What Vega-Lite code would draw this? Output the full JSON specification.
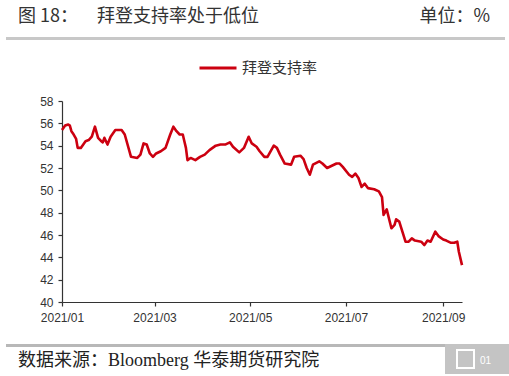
{
  "$schema": "https://vega.github.io/schema/vega-lite/v6.json",
  "autosize": {"type": "none"},
  "padding": {"left": 62, "top": 101, "right": 47, "bottom": 74},
  "width": 400,
  "height": 201,
  "background": "white",
  "config": {"view": {"stroke": null}},
  "resolve": {"scale": {"x": "independent", "y": "independent"}},
  "layer": [
    {
      "data": {"values": [
        {"date": "2021-01-01", "v": 55.4, "s": "拜登支持率"},
        {"date": "2021-01-03", "v": 55.8, "s": "拜登支持率"},
        {"date": "2021-01-05", "v": 55.9, "s": "拜登支持率"},
        {"date": "2021-01-06", "v": 55.8, "s": "拜登支持率"},
        {"date": "2021-01-07", "v": 55.3, "s": "拜登支持率"},
        {"date": "2021-01-08", "v": 55.1, "s": "拜登支持率"},
        {"date": "2021-01-10", "v": 54.6, "s": "拜登支持率"},
        {"date": "2021-01-11", "v": 53.8, "s": "拜登支持率"},
        {"date": "2021-01-13", "v": 53.8, "s": "拜登支持率"},
        {"date": "2021-01-16", "v": 54.4, "s": "拜登支持率"},
        {"date": "2021-01-18", "v": 54.5, "s": "拜登支持率"},
        {"date": "2021-01-20", "v": 54.8, "s": "拜登支持率"},
        {"date": "2021-01-22", "v": 55.7, "s": "拜登支持率"},
        {"date": "2021-01-24", "v": 54.7, "s": "拜登支持率"},
        {"date": "2021-01-26", "v": 54.4, "s": "拜登支持率"},
        {"date": "2021-01-27", "v": 54.3, "s": "拜登支持率"},
        {"date": "2021-01-28", "v": 54.7, "s": "拜登支持率"},
        {"date": "2021-01-30", "v": 54.1, "s": "拜登支持率"},
        {"date": "2021-02-01", "v": 54.8, "s": "拜登支持率"},
        {"date": "2021-02-04", "v": 55.4, "s": "拜登支持率"},
        {"date": "2021-02-08", "v": 55.4, "s": "拜登支持率"},
        {"date": "2021-02-10", "v": 55.0, "s": "拜登支持率"},
        {"date": "2021-02-14", "v": 53.0, "s": "拜登支持率"},
        {"date": "2021-02-18", "v": 52.9, "s": "拜登支持率"},
        {"date": "2021-02-20", "v": 53.2, "s": "拜登支持率"},
        {"date": "2021-02-22", "v": 54.2, "s": "拜登支持率"},
        {"date": "2021-02-24", "v": 54.1, "s": "拜登支持率"},
        {"date": "2021-02-26", "v": 53.3, "s": "拜登支持率"},
        {"date": "2021-02-28", "v": 53.0, "s": "拜登支持率"},
        {"date": "2021-03-02", "v": 53.3, "s": "拜登支持率"},
        {"date": "2021-03-05", "v": 53.5, "s": "拜登支持率"},
        {"date": "2021-03-08", "v": 53.8, "s": "拜登支持率"},
        {"date": "2021-03-11", "v": 55.0, "s": "拜登支持率"},
        {"date": "2021-03-13", "v": 55.7, "s": "拜登支持率"},
        {"date": "2021-03-15", "v": 55.3, "s": "拜登支持率"},
        {"date": "2021-03-17", "v": 55.0, "s": "拜登支持率"},
        {"date": "2021-03-19", "v": 55.0, "s": "拜登支持率"},
        {"date": "2021-03-20", "v": 54.4, "s": "拜登支持率"},
        {"date": "2021-03-21", "v": 53.8, "s": "拜登支持率"},
        {"date": "2021-03-22", "v": 52.7, "s": "拜登支持率"},
        {"date": "2021-03-24", "v": 52.9, "s": "拜登支持率"},
        {"date": "2021-03-27", "v": 52.7, "s": "拜登支持率"},
        {"date": "2021-03-30", "v": 53.0, "s": "拜登支持率"},
        {"date": "2021-04-02", "v": 53.2, "s": "拜登支持率"},
        {"date": "2021-04-05", "v": 53.6, "s": "拜登支持率"},
        {"date": "2021-04-09", "v": 54.0, "s": "拜登支持率"},
        {"date": "2021-04-12", "v": 54.1, "s": "拜登支持率"},
        {"date": "2021-04-15", "v": 54.1, "s": "拜登支持率"},
        {"date": "2021-04-18", "v": 54.3, "s": "拜登支持率"},
        {"date": "2021-04-20", "v": 53.9, "s": "拜登支持率"},
        {"date": "2021-04-24", "v": 53.4, "s": "拜登支持率"},
        {"date": "2021-04-27", "v": 53.8, "s": "拜登支持率"},
        {"date": "2021-04-30", "v": 54.8, "s": "拜登支持率"},
        {"date": "2021-05-02", "v": 54.2, "s": "拜登支持率"},
        {"date": "2021-05-05", "v": 53.9, "s": "拜登支持率"},
        {"date": "2021-05-07", "v": 53.5, "s": "拜登支持率"},
        {"date": "2021-05-10", "v": 53.0, "s": "拜登支持率"},
        {"date": "2021-05-12", "v": 53.0, "s": "拜登支持率"},
        {"date": "2021-05-16", "v": 54.0, "s": "拜登支持率"},
        {"date": "2021-05-18", "v": 53.8, "s": "拜登支持率"},
        {"date": "2021-05-20", "v": 53.2, "s": "拜登支持率"},
        {"date": "2021-05-23", "v": 52.4, "s": "拜登支持率"},
        {"date": "2021-05-27", "v": 52.3, "s": "拜登支持率"},
        {"date": "2021-05-29", "v": 53.0, "s": "拜登支持率"},
        {"date": "2021-06-02", "v": 53.1, "s": "拜登支持率"},
        {"date": "2021-06-04", "v": 52.8, "s": "拜登支持率"},
        {"date": "2021-06-06", "v": 52.0, "s": "拜登支持率"},
        {"date": "2021-06-08", "v": 51.4, "s": "拜登支持率"},
        {"date": "2021-06-10", "v": 52.3, "s": "拜登支持率"},
        {"date": "2021-06-14", "v": 52.6, "s": "拜登支持率"},
        {"date": "2021-06-16", "v": 52.4, "s": "拜登支持率"},
        {"date": "2021-06-19", "v": 52.0, "s": "拜登支持率"},
        {"date": "2021-06-22", "v": 52.2, "s": "拜登支持率"},
        {"date": "2021-06-25", "v": 52.4, "s": "拜登支持率"},
        {"date": "2021-06-27", "v": 52.4, "s": "拜登支持率"},
        {"date": "2021-06-29", "v": 52.1, "s": "拜登支持率"},
        {"date": "2021-07-03", "v": 51.4, "s": "拜登支持率"},
        {"date": "2021-07-05", "v": 51.2, "s": "拜登支持率"},
        {"date": "2021-07-07", "v": 51.5, "s": "拜登支持率"},
        {"date": "2021-07-09", "v": 51.1, "s": "拜登支持率"},
        {"date": "2021-07-11", "v": 50.3, "s": "拜登支持率"},
        {"date": "2021-07-13", "v": 50.6, "s": "拜登支持率"},
        {"date": "2021-07-15", "v": 50.2, "s": "拜登支持率"},
        {"date": "2021-07-19", "v": 50.1, "s": "拜登支持率"},
        {"date": "2021-07-22", "v": 49.9, "s": "拜登支持率"},
        {"date": "2021-07-24", "v": 49.4, "s": "拜登支持率"},
        {"date": "2021-07-25", "v": 47.8, "s": "拜登支持率"},
        {"date": "2021-07-27", "v": 48.3, "s": "拜登支持率"},
        {"date": "2021-07-30", "v": 46.6, "s": "拜登支持率"},
        {"date": "2021-08-01", "v": 46.9, "s": "拜登支持率"},
        {"date": "2021-08-02", "v": 47.4, "s": "拜登支持率"},
        {"date": "2021-08-04", "v": 47.2, "s": "拜登支持率"},
        {"date": "2021-08-06", "v": 46.3, "s": "拜登支持率"},
        {"date": "2021-08-08", "v": 45.4, "s": "拜登支持率"},
        {"date": "2021-08-10", "v": 45.4, "s": "拜登支持率"},
        {"date": "2021-08-12", "v": 45.7, "s": "拜登支持率"},
        {"date": "2021-08-14", "v": 45.5, "s": "拜登支持率"},
        {"date": "2021-08-18", "v": 45.4, "s": "拜登支持率"},
        {"date": "2021-08-20", "v": 45.1, "s": "拜登支持率"},
        {"date": "2021-08-22", "v": 45.5, "s": "拜登支持率"},
        {"date": "2021-08-24", "v": 45.4, "s": "拜登支持率"},
        {"date": "2021-08-27", "v": 46.3, "s": "拜登支持率"},
        {"date": "2021-08-29", "v": 45.9, "s": "拜登支持率"},
        {"date": "2021-09-01", "v": 45.6, "s": "拜登支持率"},
        {"date": "2021-09-03", "v": 45.5, "s": "拜登支持率"},
        {"date": "2021-09-06", "v": 45.3, "s": "拜登支持率"},
        {"date": "2021-09-08", "v": 45.3, "s": "拜登支持率"},
        {"date": "2021-09-10", "v": 45.4, "s": "拜登支持率"},
        {"date": "2021-09-11", "v": 44.5, "s": "拜登支持率"},
        {"date": "2021-09-13", "v": 43.3, "s": "拜登支持率"}
      ]},
      "mark": {"type": "line", "strokeWidth": 2.6, "strokeJoin": "round", "clip": false},
      "encoding": {
        "x": {
          "field": "date", "type": "temporal",
          "scale": {"type": "utc", "domain": [{"year": 2021, "month": 1, "date": 1, "utc": true}, {"year": 2021, "month": 9, "date": 13, "utc": true}], "nice": false},
          "axis": {
            "title": null, "format": "%Y/%m", "grid": false,
            "values": [{"year": 2021, "month": 1, "date": 1, "utc": true}, {"year": 2021, "month": 3, "date": 1, "utc": true}, {"year": 2021, "month": 5, "date": 1, "utc": true}, {"year": 2021, "month": 7, "date": 1, "utc": true}, {"year": 2021, "month": 9, "date": 1, "utc": true}],
            "domainColor": "#333333", "tickColor": "#333333", "tickSize": 4, "domainWidth": 1.2, "tickWidth": 1.2,
            "labelFont": "Liberation Sans", "labelFontSize": 12, "labelColor": "#333333", "labelPadding": 6,
            "labelFlush": false, "labelOverlap": false
          }
        },
        "y": {
          "field": "v", "type": "quantitative",
          "scale": {"domain": [40, 58], "nice": false, "zero": false},
          "axis": {
            "title": null, "grid": false, "values": [40, 42, 44, 46, 48, 50, 52, 54, 56, 58],
            "domainColor": "#333333", "tickColor": "#333333", "tickSize": 4, "domainWidth": 1.2, "tickWidth": 1.2,
            "labelFont": "Liberation Sans", "labelFontSize": 12, "labelColor": "#333333", "labelPadding": 5
          }
        },
        "color": {
          "field": "s", "type": "nominal",
          "scale": {"range": ["#CC0010"]},
          "legend": {
            "title": null, "orient": "none", "legendX": 136, "legendY": -53,
            "symbolType": "stroke", "symbolSize": 1369, "symbolStrokeWidth": 3,
            "labelFont": "Noto Sans CJK SC", "labelFontSize": 15, "labelColor": "#333333", "labelOffset": 4, "padding": 0
          }
        }
      }
    },
    {
      "data": {"values": [{"part": "frame"}]},
      "encoding": {},
      "layer": [
        {"mark": {"type": "rect", "color": "#c8c8c8", "clip": false},
         "encoding": {
           "x": {"datum": -0.14, "type": "quantitative", "scale": {"domain": [0, 1], "zero": false, "nice": false}, "axis": null},
           "x2": {"datum": 1.1075},
           "y": {"datum": -0.318, "type": "quantitative", "scale": {"domain": [0, 1], "reverse": true, "zero": false, "nice": false}, "axis": null},
           "y2": {"datum": -0.303}}},
        {"mark": {"type": "rect", "color": "#b8b8b8", "clip": false},
         "encoding": {"x": {"datum": -0.14, "type": "quantitative"}, "x2": {"datum": 1.1075}, "y": {"datum": 1.209, "type": "quantitative"}, "y2": {"datum": 1.224}}},
        {"mark": {"type": "rect", "color": "#c4c4c4", "clip": false},
         "encoding": {"x": {"datum": 0.9575, "type": "quantitative"}, "x2": {"datum": 1.1175}, "y": {"datum": 1.209, "type": "quantitative"}, "y2": {"datum": 1.358}}},
        {"mark": {"type": "rect", "fill": "#c4c4c4", "stroke": "white", "strokeWidth": 2, "clip": false},
         "encoding": {"x": {"datum": 0.9875, "type": "quantitative"}, "x2": {"datum": 1.03}, "y": {"datum": 1.239, "type": "quantitative"}, "y2": {"datum": 1.328}}},
        {"mark": {"type": "text", "text": "01", "align": "left", "baseline": "middle", "font": "Liberation Sans", "fontSize": 10, "color": "white", "clip": false},
         "encoding": {"x": {"datum": 1.045, "type": "quantitative"}, "y": {"datum": 1.294, "type": "quantitative"}}},
        {"mark": {"type": "text", "text": "数据来源：Bloomberg 华泰期货研究院", "align": "left", "baseline": "middle", "font": "Liberation Serif, Noto Sans CJK SC", "fontSize": 18, "color": "#222222", "clip": false},
         "encoding": {"x": {"datum": -0.11, "type": "quantitative"}, "y": {"datum": 1.294, "type": "quantitative"}}},
        {"mark": {"type": "text", "text": "图 18：", "align": "left", "baseline": "middle", "font": "Noto Sans CJK SC", "fontSize": 18, "color": "#333333", "clip": false},
         "encoding": {"x": {"datum": -0.11, "type": "quantitative"}, "y": {"datum": -0.418, "type": "quantitative"}}},
        {"mark": {"type": "text", "text": "拜登支持率处于低位", "align": "left", "baseline": "middle", "font": "Noto Sans CJK SC", "fontSize": 18, "color": "#333333", "clip": false},
         "encoding": {"x": {"datum": 0.0875, "type": "quantitative"}, "y": {"datum": -0.418, "type": "quantitative"}}},
        {"mark": {"type": "text", "text": "单位：%", "align": "right", "baseline": "middle", "font": "Noto Sans CJK SC", "fontSize": 18, "color": "#333333", "clip": false},
         "encoding": {"x": {"datum": 1.07, "type": "quantitative"}, "y": {"datum": -0.418, "type": "quantitative"}}}
      ]
    }
  ]
}
